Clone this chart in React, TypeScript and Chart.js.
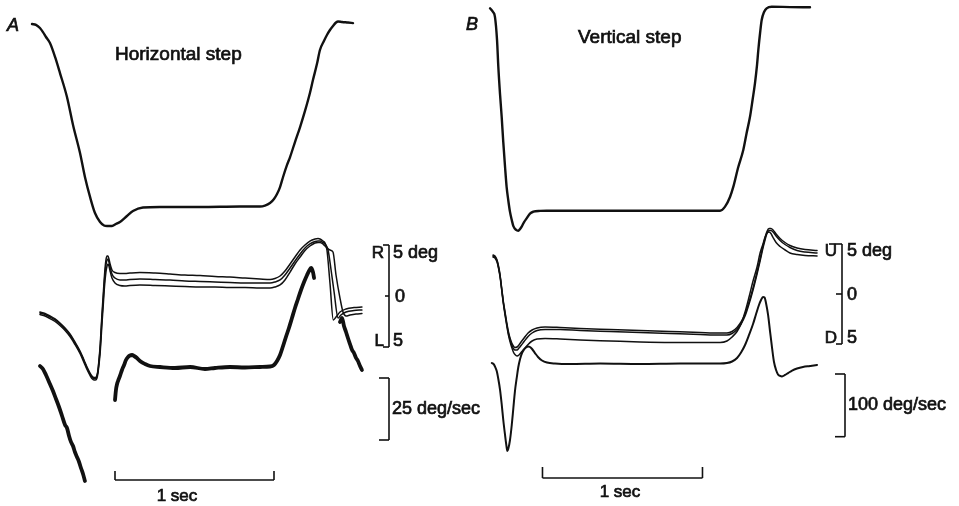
import { useEffect, useRef } from "react";
import { Chart, registerables } from "chart.js";

Chart.register(...registerables);

// ---------- Panel A: horizontal step (time in ms, position in deg, velocity in deg/s) ----------
const hStimTime = [0, 25, 50, 69, 88, 113, 145, 176, 220, 258, 302, 333, 365, 396, 428, 453, 472, 503, 528, 553, 597, 635, 698, 805, 1057, 1308, 1434, 1465, 1497, 1522, 1541, 1560, 1579, 1604, 1623, 1654, 1686, 1717, 1748, 1767, 1792, 1811, 1836, 1855, 1874, 1893, 1912, 1925, 1950, 1987, 2019];
const hStim = [1.0, 0.995, 0.978, 0.956, 0.929, 0.896, 0.82, 0.732, 0.601, 0.448, 0.295, 0.164, 0.055, -0.033, -0.082, -0.101, -0.104, -0.104, -0.093, -0.082, -0.049, -0.022, -0.003, 0, 0, 0.003, 0.003, 0.008, 0.022, 0.044, 0.071, 0.109, 0.164, 0.23, 0.273, 0.355, 0.437, 0.525, 0.623, 0.694, 0.781, 0.858, 0.907, 0.94, 0.967, 0.989, 1.008, 1.014, 1.011, 1.008, 1.005];

const hEyeTime = [50, 82, 113, 145, 176, 208, 239, 270, 302, 327, 346, 365, 377, 390, 399, 409, 415, 421, 428, 434, 440, 447, 453, 459, 465, 472, 478, 484, 491, 503, 522, 553, 585, 616, 679, 774, 868, 962, 1057, 1151, 1245, 1340, 1434, 1497, 1528, 1560, 1591, 1623, 1654, 1686, 1717, 1748, 1780, 1799, 1811, 1830, 1843];
const hEye1 = [-1.57, -1.72, -1.96, -2.25, -2.65, -3.14, -3.73, -4.51, -5.39, -6.27, -6.96, -7.55, -7.84, -7.99, -7.99, -7.75, -7.25, -6.27, -5.0, -3.43, -1.76, -0.1, 1.37, 2.65, 3.53, 3.92, 3.92, 3.63, 3.14, 2.55, 2.3, 2.21, 2.21, 2.25, 2.3, 2.25, 2.16, 2.06, 2.01, 1.91, 1.86, 1.76, 1.67, 1.62, 1.72, 1.96, 2.45, 3.14, 3.82, 4.51, 5.0, 5.39, 5.59, 5.64, 5.59, 5.39, 5.2];
const hEye2 = [-1.67, -1.81, -2.06, -2.35, -2.75, -3.24, -3.82, -4.61, -5.49, -6.37, -7.06, -7.65, -7.94, -8.09, -8.09, -7.84, -7.35, -6.47, -5.29, -3.82, -2.16, -0.59, 0.88, 2.16, 3.04, 3.53, 3.63, 3.33, 2.84, 2.16, 1.76, 1.57, 1.57, 1.62, 1.67, 1.62, 1.57, 1.47, 1.42, 1.37, 1.32, 1.27, 1.27, 1.27, 1.37, 1.57, 2.06, 2.75, 3.43, 4.12, 4.71, 5.1, 5.34, 5.39, 5.39, 5.25, 5.1];
const hEye3 = [-1.81, -1.96, -2.21, -2.5, -2.89, -3.38, -3.97, -4.75, -5.64, -6.52, -7.21, -7.79, -8.09, -8.24, -8.24, -8.04, -7.55, -6.76, -5.69, -4.31, -2.75, -1.18, 0.29, 1.47, 2.35, 2.94, 3.14, 2.94, 2.45, 1.76, 1.27, 1.03, 0.98, 1.03, 1.08, 1.03, 0.98, 0.93, 0.88, 0.88, 0.83, 0.83, 0.78, 0.78, 0.88, 1.08, 1.57, 2.35, 3.14, 3.82, 4.46, 4.9, 5.2, 5.25, 5.25, 5.1, 4.9];

// return saccades at the end of the ramp, one per trace
const hEndTime1 = [1855, 1874, 1895, 1912, 1937, 1975, 2025, 2075];
const hEnd1 = [4.51, 1.27, -2.35, -2.06, -1.57, -1.27, -1.13, -1.08];
const hEndTime2 = [1862, 1881, 1900, 1925, 1943, 1975, 2025, 2075];
const hEnd2 = [4.51, 2.55, 0.39, -2.16, -1.86, -1.57, -1.42, -1.37];
const hEndTime3 = [1874, 1893, 1912, 1937, 1956, 1975, 2000, 2038, 2075];
const hEnd3 = [4.51, 4.31, 2.06, -0.2, -1.57, -1.96, -1.86, -1.76, -1.72];

// eye velocity, broken where saccades leave the range
const hVelTime1 = [50, 69, 88, 113, 132, 151, 170, 189, 208, 220, 233, 245, 258, 270, 283, 296, 308, 321, 333];
const hVel1 = [0.4, -0.81, -3.23, -6.85, -9.68, -12.9, -16.13, -19.76, -23.39, -24.6, -27.82, -30.2, -31.85, -34.27, -36.29, -38.31, -40.73, -43.15, -45.97];
const hVelTime2 = [522, 528, 535, 541, 553, 566, 579, 591, 604, 616, 629, 642, 660, 679, 711, 742, 805, 899, 994, 1088, 1151, 1245, 1340, 1434, 1497, 1522, 1541, 1560, 1579, 1597, 1616, 1635, 1654, 1673, 1692, 1711, 1730, 1742, 1755, 1767, 1774];
const hVel2 = [-13.31, -9.27, -6.85, -5.65, -3.63, -1.21, 0.81, 2.82, 4.03, 4.64, 4.84, 4.44, 3.63, 2.42, 1.21, 0.4, 0, -0.4, 0, -0.81, -0.4, 0, -0.2, 0, 0.2, 0.81, 2.42, 4.84, 8.47, 12.1, 15.73, 19.76, 23.79, 27.42, 31.05, 34.27, 37.1, 38.71, 39.92, 38.31, 35.89];
const hVelTime3 = [1937, 1950, 1962, 1975, 1987, 2000, 2013, 2025, 2038, 2050, 2063, 2075];
const hVel3 = [18.15, 19.76, 16.53, 14.11, 11.69, 9.27, 6.85, 5.65, 3.63, 2.42, 0.4, -1.21];

// ---------- Panel B: vertical step ----------
const vStimTime = [0, 19, 31, 44, 52, 63, 73, 83, 94, 104, 114, 125, 136, 146, 163, 177, 188, 198, 213, 229, 250, 271, 313, 354, 688, 1438, 1469, 1500, 1521, 1550, 1583, 1604, 1625, 1641, 1656, 1669, 1677, 1688, 1698, 1713, 1729, 1761, 1875, 2000];
const vStim = [1.0, 0.982, 0.958, 0.843, 0.711, 0.572, 0.464, 0.339, 0.217, 0.117, 0.053, -0.006, -0.046, -0.076, -0.095, -0.099, -0.09, -0.079, -0.056, -0.038, -0.014, -0.005, -0.001, 0, 0, 0, 0.02, 0.068, 0.119, 0.211, 0.3, 0.384, 0.464, 0.547, 0.629, 0.72, 0.794, 0.878, 0.942, 0.982, 1.0, 1.008, 1.006, 1.005];

const vEyeTime = [19, 31, 44, 53, 63, 73, 83, 94, 104, 114, 125, 136, 146, 156, 169, 181, 194, 213, 238, 263, 294, 344, 438, 563, 750, 938, 1125, 1313, 1438, 1481, 1513, 1544, 1569, 1594, 1619, 1644, 1669, 1688, 1706, 1719, 1731, 1744, 1756, 1769, 1788, 1813, 1844, 1875, 1919, 1969, 2044];
const vEye1 = [3.9, 3.8, 3.4, 2.8, 1.9, 0.6, -0.7, -1.8, -2.8, -3.7, -4.4, -4.9, -5.2, -5.35, -5.3, -5.1, -4.8, -4.4, -3.9, -3.6, -3.4, -3.3, -3.35, -3.45, -3.55, -3.65, -3.75, -3.85, -3.9, -3.9, -3.75, -3.35, -2.8, -2.0, -0.8, 0.6, 2.2, 3.5, 4.8, 5.6, 6.25, 6.55, 6.55, 6.4, 6.0, 5.55, 5.15, 4.85, 4.6, 4.45, 4.35];
const vEye2 = [3.8, 3.7, 3.3, 2.7, 1.8, 0.5, -0.8, -1.95, -2.95, -3.85, -4.55, -5.1, -5.45, -5.6, -5.6, -5.4, -5.15, -4.75, -4.25, -3.9, -3.65, -3.55, -3.55, -3.65, -3.75, -3.85, -3.95, -4.05, -4.1, -4.1, -3.95, -3.55, -3.0, -2.2, -1.0, 0.4, 2.0, 3.3, 4.6, 5.4, 6.05, 6.35, 6.35, 6.2, 5.8, 5.35, 4.95, 4.65, 4.35, 4.2, 4.1];
const vEye3 = [3.7, 3.6, 3.2, 2.6, 1.7, 0.4, -0.9, -2.1, -3.1, -4.0, -4.75, -5.35, -5.8, -6.05, -6.2, -6.1, -5.85, -5.5, -5.05, -4.7, -4.5, -4.45, -4.5, -4.6, -4.7, -4.8, -4.85, -4.85, -4.85, -4.7, -4.3, -3.75, -3.0, -1.8, -0.3, 1.3, 2.7, 4.1, 5.0, 5.7, 6.1, 6.2, 6.05, 5.65, 5.15, 4.75, 4.4, 4.1, 3.95, 3.85, 3.8];

const vVelTime = [11, 22, 31, 42, 52, 63, 73, 83, 94, 102, 108, 114, 125, 136, 146, 156, 167, 177, 188, 200, 213, 225, 238, 250, 263, 281, 300, 325, 356, 406, 500, 688, 938, 1188, 1438, 1481, 1513, 1544, 1569, 1594, 1619, 1644, 1663, 1681, 1694, 1706, 1716, 1725, 1738, 1750, 1763, 1775, 1788, 1800, 1813, 1825, 1844, 1863, 1888, 1919, 1956, 2000, 2044];
const vVel = [0.8, -0.8, -4.8, -12.0, -24.7, -42.3, -64.6, -90.1, -114.0, -130.0, -139.6, -136.4, -122.0, -98.1, -71.0, -43.9, -23.1, -5.6, 7.2, 16.7, 22.3, 25.5, 27.1, 26.3, 23.1, 16.7, 10.4, 4.8, 1.6, 0, -0.8, 0, -0.8, 0, 0, 0.8, 3.2, 8.8, 17.5, 29.5, 45.5, 63.0, 78.9, 93.3, 101.3, 106.1, 105.3, 96.5, 77.4, 51.8, 24.7, 2.4, -10.4, -17.5, -19.9, -20.7, -18.3, -15.2, -11.2, -8.0, -5.6, -4.0, -2.4];

// calibration bars
const degBar = 5;
const hVelBar = 25;
const vVelBar = 100;
const timeBar = 1000;
const hTimeBarStart = 522;
const vTimeBarStart = 328;

const ink = "#111111";
const family = '"Liberation Sans", Arial, Helvetica, sans-serif';

const pts = (ts: number[], vs: number[]) => ts.map((x, i) => ({ x, y: vs[i] }));

const trace = (data: { x: number; y: number }[], xAxisID: string, yAxisID: string, width: number) => ({
  data,
  xAxisID,
  yAxisID,
  showLine: true,
  borderColor: ink,
  backgroundColor: ink,
  borderWidth: width,
  pointRadius: 0,
  pointHoverRadius: 0,
  fill: false,
  cubicInterpolationMode: "monotone" as const,
  borderJoinStyle: "round" as const,
  borderCapStyle: "round" as const,
});

const calibration = {
  id: "calibration",
  afterDatasetsDraw(chart: any) {
    const { ctx, scales } = chart;
    ctx.save();
    ctx.strokeStyle = ink;
    ctx.fillStyle = ink;
    const seg = (x1: number, y1: number, x2: number, y2: number) => {
      ctx.lineWidth = 1.6;
      ctx.beginPath();
      ctx.moveTo(x1, y1);
      ctx.lineTo(x2, y2);
      ctx.stroke();
    };
    // slightly heavier lettering: fill plus a thin outline
    const text = (s: string, x: number, y: number, align: CanvasTextAlign, size: number, style = "") => {
      ctx.font = `${style} ${size}px ${family}`;
      ctx.textAlign = align;
      ctx.textBaseline = "middle";
      ctx.lineWidth = 0.7;
      ctx.fillText(s, x, y);
      ctx.strokeText(s, x, y);
    };

    // panel headings
    text("A", 7, 26, "left", 18, "italic");
    text("Horizontal step", 115, 55, "left", 19);
    text("B", 466, 25, "left", 18, "italic");
    text("Vertical step", 578, 38, "left", 19);

    // A: position bracket
    const pA = scales.yPosA;
    const ax = 389;
    const aTop = pA.getPixelForValue(degBar);
    const aZero = pA.getPixelForValue(0);
    const aBot = pA.getPixelForValue(-degBar);
    seg(ax, aTop, ax, aBot);
    seg(ax - 6, aTop, ax, aTop);
    seg(ax - 6, aBot, ax, aBot);
    seg(ax - 4, aZero, ax, aZero);
    text("R", ax - 5, aTop + 8, "right", 17);
    text("5 deg", ax + 4, aTop + 8, "left", 18);
    text("0", ax + 6, aZero + 1, "left", 18);
    text("L", ax - 5, aBot - 6, "right", 17);
    text("5", ax + 4, aBot - 6, "left", 18);

    // A: velocity bracket
    const vA = scales.yVelA;
    const aLen = vA.getPixelForValue(0) - vA.getPixelForValue(hVelBar);
    const aVTop = 378;
    seg(ax, aVTop, ax, aVTop + aLen);
    seg(ax - 10, aVTop, ax, aVTop);
    seg(ax - 10, aVTop + aLen, ax, aVTop + aLen);
    text("25 deg/sec", ax + 3, aVTop + aLen / 2, "left", 18);

    // A: time bar
    const xA = scales.xA;
    const a1 = xA.getPixelForValue(hTimeBarStart);
    const a2 = xA.getPixelForValue(hTimeBarStart + timeBar);
    seg(a1, 480, a2, 480);
    seg(a1, 471, a1, 480);
    seg(a2, 471, a2, 480);
    text("1 sec", 177, 496, "center", 17);

    // B: position bracket
    const pB = scales.yPosB;
    const bx = 842;
    const bTop = pB.getPixelForValue(degBar);
    const bZero = pB.getPixelForValue(0);
    const bBot = pB.getPixelForValue(-degBar);
    seg(bx, bTop, bx, bBot);
    seg(bx - 13, bTop, bx, bTop);
    seg(bx - 6, bBot, bx, bBot);
    seg(bx - 6, bZero, bx, bZero);
    text("U", bx - 5, bTop + 7, "right", 17);
    text("5 deg", bx + 5, bTop + 7, "left", 18);
    text("0", bx + 5, bZero + 1, "left", 18);
    text("D", bx - 5, bBot - 6, "right", 17);
    text("5", bx + 5, bBot - 6, "left", 18);

    // B: velocity bracket
    const vB = scales.yVelB;
    const bLen = vB.getPixelForValue(0) - vB.getPixelForValue(vVelBar);
    const bVx = 845;
    const bVTop = 374;
    seg(bVx, bVTop, bVx, bVTop + bLen);
    seg(bVx - 10, bVTop, bVx, bVTop);
    seg(bVx - 10, bVTop + bLen, bVx, bVTop + bLen);
    text("100 deg/sec", bVx + 3, bVTop + bLen / 2, "left", 18);

    // B: time bar
    const xB = scales.xB;
    const b1 = xB.getPixelForValue(vTimeBarStart);
    const b2 = xB.getPixelForValue(vTimeBarStart + timeBar);
    seg(b1, 478, b2, 478);
    seg(b1, 467, b1, 478);
    seg(b2, 467, b2, 478);
    text("1 sec", 620, 492, "center", 17);

    ctx.restore();
  },
};

const hidden = (min: number, max: number, position: string) => ({
  type: "linear" as const,
  display: false,
  position,
  min,
  max,
});

export default function App() {
  const ref = useRef<HTMLCanvasElement>(null);

  useEffect(() => {
    if (!ref.current) return;
    const chart = new Chart(ref.current, {
      type: "scatter",
      data: {
        datasets: [
          trace(pts(hStimTime, hStim), "xA", "yStimA", 2.4),
          trace(pts(hEyeTime, hEye1).concat(pts(hEndTime1, hEnd1)), "xA", "yPosA", 1.5),
          trace(pts(hEyeTime, hEye2).concat(pts(hEndTime2, hEnd2)), "xA", "yPosA", 1.5),
          trace(pts(hEyeTime, hEye3).concat(pts(hEndTime3, hEnd3)), "xA", "yPosA", 1.5),
          trace(pts(hVelTime1, hVel1), "xA", "yVelA", 3.8),
          trace(pts(hVelTime2, hVel2), "xA", "yVelA", 3.8),
          trace(pts(hVelTime3, hVel3), "xA", "yVelA", 3.8),
          trace(pts(vStimTime, vStim), "xB", "yStimB", 2.4),
          trace(pts(vEyeTime, vEye1), "xB", "yPosB", 1.5),
          trace(pts(vEyeTime, vEye2), "xB", "yPosB", 1.5),
          trace(pts(vEyeTime, vEye3), "xB", "yPosB", 1.5),
          trace(pts(vVelTime, vVel), "xB", "yVelB", 2),
        ] as any,
      },
      options: {
        animation: false,
        responsive: false,
        devicePixelRatio: 1,
        events: [],
        layout: { padding: 0 },
        plugins: { legend: { display: false }, tooltip: { enabled: false } },
        scales: {
          xA: hidden(-201.26, 5830.19, "bottom"),
          xB: hidden(-3062.5, 2931.25, "bottom"),
          yStimA: hidden(-1.63388, 1.13115, "left"),
          yPosA: hidden(-20.5882, 29.0196, "left"),
          yVelA: hidden(-56.048, 147.984, "left"),
          yStimB: hidden(-1.45899, 1.04101, "left"),
          yPosB: hidden(-21.2, 29.4, "left"),
          yVelB: hidden(-227.273, 579.745, "left"),
        } as any,
      },
      plugins: [calibration],
    });
    return () => chart.destroy();
  }, []);

  return (
    <div style={{ position: "fixed", left: 0, top: 0, width: 959, height: 506, background: "#fff" }}>
      <canvas ref={ref} width={959} height={506} style={{ display: "block", width: 959, height: 506 }} />
    </div>
  );
}
